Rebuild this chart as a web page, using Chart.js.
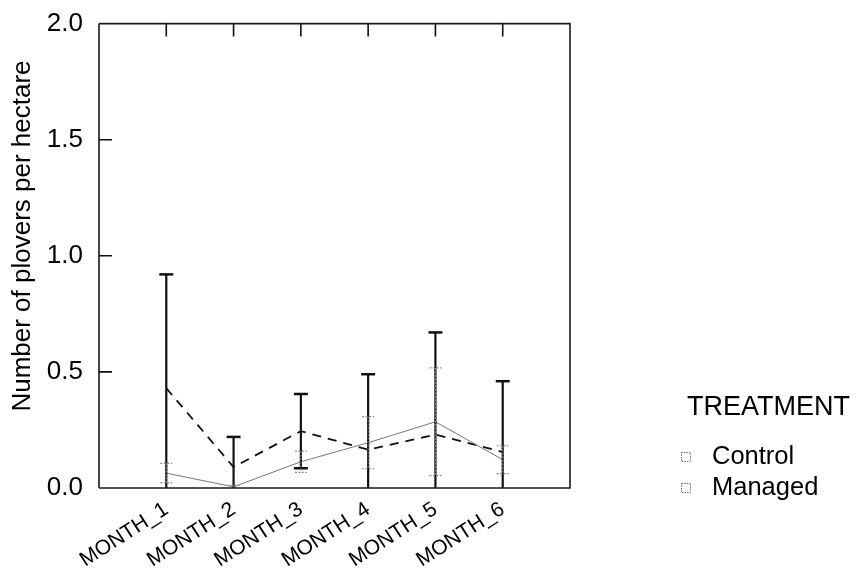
<!DOCTYPE html>
<html>
<head>
<meta charset="utf-8">
<script src="https://cdn.jsdelivr.net/npm/chart.js@4.4.0/dist/chart.umd.min.js"></script>
<style>
  html, body { margin: 0; padding: 0; background: #ffffff; }
  #wrap { width: 859px; height: 578px; position: relative; }
</style>
</head>
<body>
<div id="wrap"><canvas id="c" width="859" height="578"></canvas></div>
<script>
// ---- data ----
const categories = ['MONTH_1', 'MONTH_2', 'MONTH_3', 'MONTH_4', 'MONTH_5', 'MONTH_6'];
const seriesNames = ['Control', 'Managed'];
const controlMean = [0.064, 0.005, 0.113, 0.195, 0.285, 0.122];
const controlErr  = [0.042, 0.006, 0.046, 0.112, 0.232, 0.060];
const managedMean = [0.430, 0.090, 0.245, 0.165, 0.230, 0.155];
const managedErr  = [0.490, 0.130, 0.160, 0.325, 0.440, 0.305];
const yTicks = [0, 0.5, 1.0, 1.5, 2.0];
const legendTitle = 'TREATMENT';
const yTitle = 'Number of plovers per hectare';

const FONT = '"Liberation Sans", Arial, Helvetica, sans-serif';

function toPoints(arr) { return arr.map((y, i) => ({ x: i + 1, y: y })); }

const errorBars = {
  id: 'errorBars',
  afterDatasetsDraw(chart) {
    const ctx = chart.ctx;
    const xs = chart.scales.x, ys = chart.scales.y;
    const draw = (means, errs, style) => {
      means.forEach((m, i) => {
        const x = xs.getPixelForValue(i + 1);
        const hi = m + errs[i];
        const lo = m - errs[i];
        const yHi = ys.getPixelForValue(hi);
        const yLo = ys.getPixelForValue(Math.max(lo, 0));
        ctx.save();
        ctx.strokeStyle = style.color;
        ctx.lineWidth = style.width;
        ctx.setLineDash(style.dash);
        ctx.beginPath();
        ctx.moveTo(x, yHi); ctx.lineTo(x, yLo);
        ctx.stroke();
        ctx.lineWidth = style.capWidth;
        ctx.beginPath();
        ctx.moveTo(x - style.cap, yHi); ctx.lineTo(x + style.cap, yHi);
        if (lo > 0) { ctx.moveTo(x - style.cap, yLo); ctx.lineTo(x + style.cap, yLo); }
        ctx.stroke();
        ctx.restore();
      });
    };
    draw(managedMean, managedErr, { color: '#111', width: 2.2, capWidth: 2.5, cap: 7, dash: [] });
    draw(controlMean, controlErr, { color: '#888', width: 1, capWidth: 1.2, cap: 6, dash: [2, 1.5] });
  }
};

const frame = {
  id: 'frame',
  afterDraw(chart) {
    const ctx = chart.ctx;
    const a = chart.chartArea;
    const xs = chart.scales.x, ys = chart.scales.y;
    ctx.save();
    ctx.strokeStyle = '#1a1a1a';
    ctx.lineWidth = 1.6;
    ctx.beginPath();
    ctx.moveTo(a.left, a.top); ctx.lineTo(a.right, a.top);
    ctx.lineTo(a.right, a.bottom); ctx.lineTo(a.left, a.bottom);
    ctx.stroke();
    ctx.strokeStyle = '#444';
    ctx.lineWidth = 2;
    ctx.beginPath();
    ctx.moveTo(a.left, a.top); ctx.lineTo(a.left, a.bottom);
    ctx.stroke();
    // inward ticks on top axis
    ctx.strokeStyle = '#111';
    ctx.lineWidth = 1.6;
    ctx.beginPath();
    categories.forEach((c, i) => {
      const x = xs.getPixelForValue(i + 1);
      ctx.moveTo(x, a.top); ctx.lineTo(x, a.top + 13);
    });
    // inward ticks on left axis
    yTicks.forEach(v => {
      if (v <= 0 || v >= 2) return;
      const y = ys.getPixelForValue(v);
      ctx.moveTo(a.left, y); ctx.lineTo(a.left + 13, y);
    });
    ctx.stroke();
    ctx.restore();

    // y axis title
    ctx.save();
    ctx.fillStyle = '#000';
    ctx.font = '26px ' + FONT;
    ctx.textAlign = 'center';
    ctx.textBaseline = 'middle';
    ctx.translate(23, 236);
    ctx.rotate(-Math.PI / 2);
    ctx.fillText(yTitle, 0, 0);
    ctx.restore();

    // legend
    ctx.save();
    ctx.fillStyle = '#000';
    ctx.textBaseline = 'middle';
    ctx.textAlign = 'left';
    ctx.font = '27px ' + FONT;
    ctx.fillText(legendTitle, 687, 408);
    ctx.font = '25.5px ' + FONT;
    const rows = [457, 488];
    seriesNames.forEach((n, i) => {
      const y = rows[i];
      ctx.strokeStyle = '#777';
      ctx.lineWidth = 1;
      ctx.setLineDash([1.5, 1]);
      ctx.strokeRect(681.5, y - 4.5, 9, 9);
      ctx.setLineDash([]);
      ctx.fillText(n, 712, y);
    });
    ctx.restore();
  }
};

new Chart(document.getElementById('c'), {
  type: 'line',
  data: {
    datasets: [
      {
        label: seriesNames[0],
        data: toPoints(controlMean),
        borderColor: '#777',
        borderWidth: 1,
        pointRadius: 0,
        tension: 0,
        fill: false
      },
      {
        label: seriesNames[1],
        data: toPoints(managedMean),
        borderColor: '#111',
        borderWidth: 1.8,
        borderDash: [9, 7],
        pointRadius: 0,
        tension: 0,
        fill: false
      }
    ]
  },
  options: {
    responsive: false,
    animation: false,
    events: [],
    layout: { autoPadding: false, padding: { top: 21, right: 289, left: 0, bottom: 0 } },
    plugins: { legend: { display: false }, tooltip: { enabled: false } },
    scales: {
      x: {
        type: 'linear',
        min: 0, max: 7,
        grid: { display: false },
        border: { display: false },
        afterFit(s) { s.height = 90; },
        afterBuildTicks(s) { s.ticks = [0, 1, 2, 3, 4, 5, 6, 7].map(v => ({ value: v })); },
        ticks: {
          autoSkip: false,
          maxRotation: 33, minRotation: 33,
          padding: 1,
          color: '#000',
          font: { family: FONT, size: 21 },
          callback: (v) => (v >= 1 && v <= categories.length) ? categories[v - 1] : ''
        }
      },
      y: {
        min: 0, max: 2,
        grid: { display: false },
        border: { display: false },
        afterFit(s) { s.width = 99; },
        afterBuildTicks(s) { s.ticks = yTicks.map(v => ({ value: v })); },
        ticks: {
          padding: 8,
          color: '#000',
          font: { family: FONT, size: 26 },
          callback: (v) => v.toFixed(1)
        }
      }
    }
  },
  plugins: [errorBars, frame]
});
</script>
</body>
</html>
